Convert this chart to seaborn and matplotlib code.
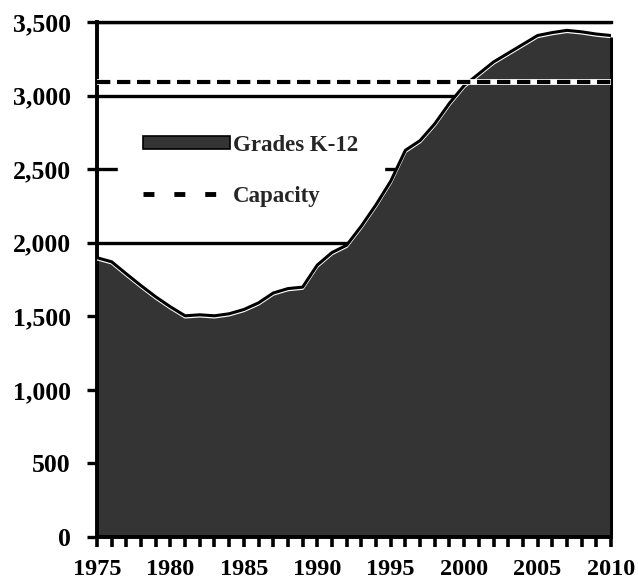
import matplotlib
matplotlib.use("Agg")
import matplotlib.pyplot as plt
import matplotlib.transforms as mtransforms
from matplotlib.lines import Line2D
from matplotlib.patches import Patch
import numpy as np
import pandas as pd
import seaborn as sns

# Enrollment, grades K-12, by year
years = list(range(1975, 2011))
enrollment = [1890, 1862, 1780, 1700, 1624, 1556, 1495, 1502, 1495, 1509,
              1538, 1583, 1650, 1680, 1690, 1840, 1925, 1975, 2105, 2250,
              2410, 2620, 2686, 2800, 2940, 3060, 3140, 3220, 3280, 3340,
              3400, 3420, 3435, 3425, 3410, 3400]
capacity = 3090

x_ticks = [1975, 1980, 1985, 1990, 1995, 2000, 2005, 2010]
y_ticks = [0, 500, 1000, 1500, 2000, 2500, 3000, 3500]

df = pd.DataFrame({"year": years, "enrollment": enrollment})
df["capacity"] = capacity

sns.set_theme(style="white")
plt.rcParams["font.family"] = ["Liberation Serif", "DejaVu Serif"]
plt.rcParams["font.weight"] = "bold"

fig = plt.figure(figsize=(6.38, 5.83), dpi=100)
ax = fig.add_axes([97 / 638, 1 - 537 / 583, (611 - 97) / 638, (537 - 22) / 583])

fill_color = "#343434"
ax.yaxis.grid(True, color="black", linewidth=2.4, zorder=0)
ax.set_axisbelow(True)

ax.fill_between(df["year"], 0, df["enrollment"], facecolor=fill_color,
                edgecolor="none", linewidth=0, zorder=2, clip_on=False)
# outline: light rim just inside a black edge
sns.lineplot(data=df, x="year", y="enrollment", ax=ax, color="white",
             linewidth=2.2, zorder=3)
shift = mtransforms.offset_copy(ax.transData, fig=fig, x=0, y=1.2, units="dots")
ax.plot(df["year"], df["enrollment"], color="black", linewidth=2.2,
        transform=shift, zorder=4, solid_capstyle="butt")
ax.vlines(years[-1], 0, enrollment[-1], color="black", linewidth=2.2,
          zorder=4, clip_on=False)

# capacity line: white band under black dashes
ax.plot(df["year"], df["capacity"], color="white", linewidth=4.2, zorder=5)
sns.lineplot(data=df, x="year", y="capacity", ax=ax, color="black",
             linewidth=3.0, zorder=6)
ax.lines[-1].set_dashes([3.2, 1.6])

ax.set_xlim(1975, 2010)
ax.set_ylim(0, 3500)
ax.set_xticks(x_ticks)
ax.set_xticks(years, minor=True)
ax.set_yticks(y_ticks)
ax.set_yticklabels([f"{v:,}" for v in y_ticks])
ax.set_xlabel("")
ax.set_ylabel("")

for side in ["left", "bottom", "top"]:
    ax.spines[side].set_visible(True)
    ax.spines[side].set_color("black")
ax.spines["left"].set_linewidth(2.8)
ax.spines["bottom"].set_linewidth(2.8)
ax.spines["top"].set_linewidth(2.4)
ax.spines["right"].set_visible(False)

ax.tick_params(axis="y", which="major", direction="out", length=7, width=2.4,
               color="black", labelsize=18.5, pad=12, left=True)
ax.tick_params(axis="x", which="both", direction="out", length=7, width=2.6,
               color="black", bottom=True)
ax.tick_params(axis="x", which="major", labelsize=17.5, pad=9)
for lab in ax.get_xticklabels() + ax.get_yticklabels():
    lab.set_fontweight("bold")
    lab.set_color("black")

handles = [
    Patch(facecolor=fill_color, edgecolor="black", linewidth=1.2, label="Grades K-12"),
    Line2D([0], [0], color="black", linewidth=3.5, dashes=[2.25, 4.1], label="Capacity"),
]
leg = ax.legend(handles=handles, loc="upper left", bbox_to_anchor=(0.04, 0.83),
                frameon=True, facecolor="white", edgecolor="white", framealpha=1,
                fancybox=False, prop={"family": "Liberation Serif", "weight": "bold", "size": 16.5},
                handlelength=3.8, handleheight=0.45, handletextpad=0.15,
                labelspacing=1.3, borderpad=1.1, borderaxespad=0)
leg.set_zorder(1)

fig.savefig("out.png", dpi=100, facecolor="white")
